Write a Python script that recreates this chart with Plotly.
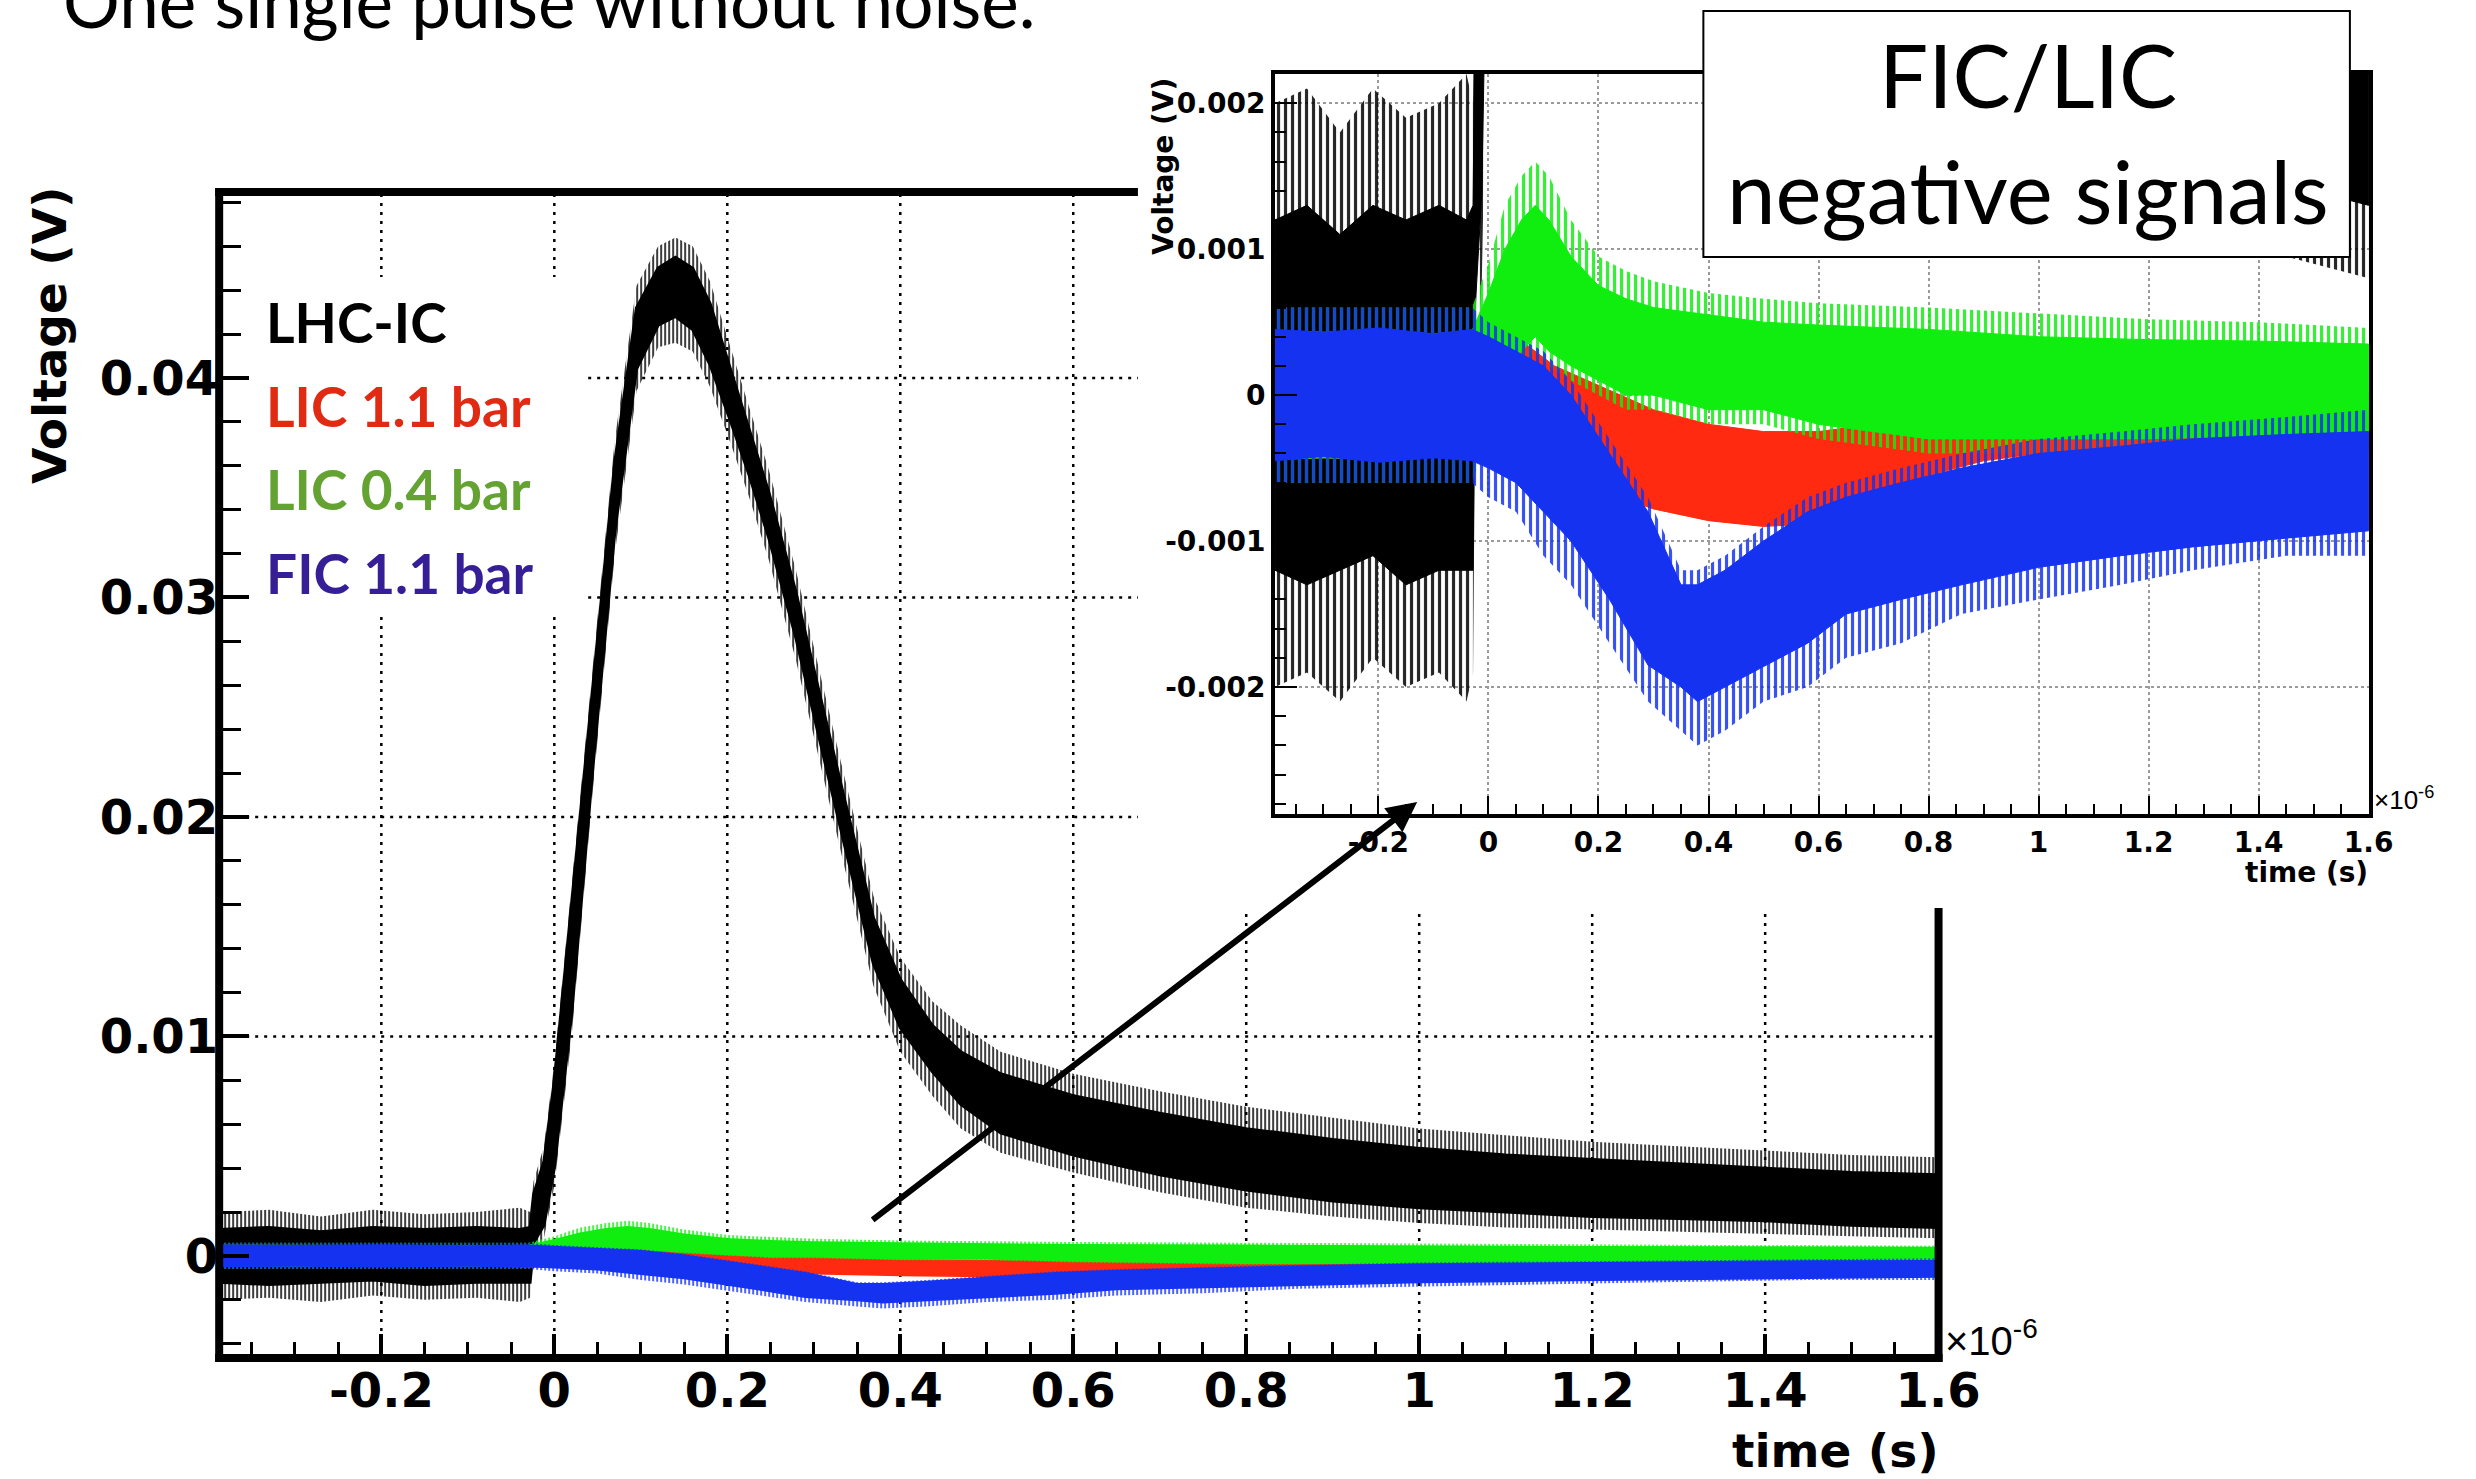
import plotly.graph_objects as go

W, H = 2476, 1479          # target picture size (pixels)
LAYOUT_W = 2520            # the page renders the figure ~44 px narrower than asked; compensate

# ---------------- data (time in microseconds, voltage in volts) ----------------
# Every signal is a noisy trace: a dense core band (lo/hi) plus the reach of its noise spikes.
lhc_t  = [-0.388, -0.33, -0.27, -0.21, -0.15, -0.09, -0.04, -0.028, -0.024, -0.012, 0.0, 0.02, 0.044,
          0.07, 0.095, 0.12, 0.14, 0.16, 0.18, 0.204, 0.225, 0.248, 0.279, 0.305, 0.335, 0.369, 0.40,
          0.437, 0.47, 0.516, 0.6, 0.7, 0.8, 0.9, 1.0, 1.1, 1.2, 1.3, 1.4, 1.5, 1.6]
lhc_lo = [-0.0012, -0.0013, -0.0012, -0.0011, -0.0013, -0.0012, -0.0012, -0.0012, 0.0006, 0.0014, 0.0040,
          0.0110, 0.0220, 0.0330, 0.0404, 0.0424, 0.0428, 0.0422, 0.0406, 0.0380, 0.0356, 0.0327, 0.0282,
          0.0238, 0.0188, 0.0133, 0.0104, 0.0084, 0.0069, 0.0056, 0.0046, 0.0037, 0.0030, 0.0025, 0.0022,
          0.0020, 0.0018, 0.0017, 0.0016, 0.0014, 0.0013]
lhc_hi = [0.0012, 0.0013, 0.0011, 0.0013, 0.0012, 0.0013, 0.0012, 0.0013, 0.0028, 0.0043, 0.0080,
          0.0160, 0.0256, 0.0362, 0.0432, 0.0450, 0.0455, 0.0450, 0.0434, 0.0403, 0.0377, 0.0348, 0.0303,
          0.0259, 0.0209, 0.0154, 0.0126, 0.0105, 0.0093, 0.0083, 0.0073, 0.0065, 0.0058, 0.0053, 0.0049,
          0.0046, 0.0044, 0.0042, 0.0040, 0.0038, 0.0037]
lhc_spike_lo = [-0.0020, -0.0019, -0.0021, -0.0018, -0.0020, -0.0019, -0.0021, -0.0019, 0.0000, 0.0008,
                0.0032, 0.0100, 0.0210, 0.0320, 0.0394, 0.0414, 0.0416, 0.0412, 0.0396, 0.0370, 0.0346,
                0.0317, 0.0272, 0.0228, 0.0178, 0.0123, 0.0093, 0.0073, 0.0058, 0.0047, 0.0038, 0.0029,
                0.0022, 0.0018, 0.0015, 0.0013, 0.0012, 0.0011, 0.0010, 0.0009, 0.0008]
lhc_spike_hi = [0.0020, 0.0021, 0.0018, 0.0021, 0.0019, 0.0020, 0.0022, 0.0020, 0.0034, 0.0050, 0.0088,
                0.0170, 0.0266, 0.0372, 0.0442, 0.0460, 0.0464, 0.0460, 0.0444, 0.0413, 0.0387, 0.0358,
                0.0313, 0.0269, 0.0219, 0.0164, 0.0136, 0.0116, 0.0105, 0.0093, 0.0083, 0.0075, 0.0068,
                0.0063, 0.0058, 0.0055, 0.0052, 0.0050, 0.0048, 0.0046, 0.0045]

lic11_t  = [-0.388, -0.3, -0.2, -0.1, -0.03, 0.05, 0.12, 0.18, 0.24, 0.3, 0.4, 0.5, 0.6, 0.7, 0.8,
            0.9, 1.0, 1.2, 1.4, 1.6]
lic11_lo = [-0.00044, -0.00043, -0.00044, -0.00042, -0.00044, -0.0005, -0.00052, -0.0006, -0.0007, -0.00078,
            -0.00086, -0.0009, -0.00088, -0.00078, -0.00055, -0.00045, -0.0004, -0.0004, -0.00038, -0.00038]
lic11_hi = [0.00044, 0.00043, 0.00044, 0.00042, 0.00044, 0.0004, 0.0002, 0.0001, 0.0, -0.0001,
            -0.0002, -0.00025, -0.00025, -0.0002, -0.0001, -0.00005, 0.0, 0.0, 0.00002, 0.00002]

lic04_t  = [-0.388, -0.3, -0.2, -0.1, -0.03, 0.0, 0.03, 0.06, 0.085, 0.11, 0.15, 0.2, 0.25, 0.3, 0.4,
            0.5, 0.6, 0.8, 1.0, 1.2, 1.4, 1.6]
lic04_lo = [-0.00044, -0.00043, -0.00044, -0.00042, -0.00044, -0.0002, 0.0001, 0.0003, 0.0004, 0.0003,
            0.0002, 0.0001, 0.0, 0.0, -0.0001, -0.0001, -0.0002, -0.0003, -0.0003, -0.0003, -0.00028, -0.00026]
lic04_hi = [0.00044, 0.00043, 0.00044, 0.00042, 0.00044, 0.0007, 0.0010, 0.0012, 0.0013, 0.0012,
            0.00095, 0.00075, 0.00066, 0.0006, 0.00055, 0.0005, 0.00048, 0.00045, 0.0004, 0.00038,
            0.00037, 0.00035]
lic04_spike_lo = [-0.0006, -0.0006, -0.0006, -0.0006, -0.0006, -0.0003, 0.0, 0.0002, 0.0003, 0.0002, 0.0001,
                  0.0, -0.0001, -0.0001, -0.0002, -0.0002, -0.0003, -0.0004, -0.0004, -0.0004, -0.0004, -0.0004]
lic04_spike_hi = [0.0006, 0.0006, 0.0006, 0.0006, 0.0006, 0.0009, 0.0013, 0.0015, 0.0016, 0.0015, 0.0012,
                  0.00095, 0.00085, 0.00078, 0.0007, 0.00066, 0.00063, 0.0006, 0.00056, 0.00052, 0.0005, 0.00046]

fic11_t  = [-0.388, -0.3, -0.2, -0.1, -0.03, 0.0, 0.05, 0.1, 0.15, 0.22, 0.29, 0.35, 0.38, 0.43, 0.5,
            0.58, 0.65, 0.75, 0.86, 1.0, 1.15, 1.28, 1.45, 1.6]
fic11_lo = [-0.00045, -0.00042, -0.00046, -0.00043, -0.00045, -0.0005, -0.0006, -0.0008, -0.001, -0.0014,
            -0.00185, -0.002, -0.0021, -0.002, -0.00186, -0.0017, -0.0015, -0.0014, -0.0013, -0.00118,
            -0.0011, -0.00104, -0.00098, -0.00093]
fic11_hi = [0.00045, 0.00043, 0.00046, 0.00042, 0.00045, 0.0004, 0.0003, 0.0002, 0.0, -0.0004,
            -0.0008, -0.0013, -0.0013, -0.0012, -0.001, -0.0008, -0.0007, -0.0006, -0.0005, -0.0004,
            -0.00035, -0.0003, -0.00027, -0.00025]
fic11_spike_lo = [-0.0006, -0.0006, -0.0006, -0.0006, -0.0006, -0.0007, -0.0008, -0.0011, -0.0013, -0.0017,
                  -0.0021, -0.0023, -0.0024, -0.0023, -0.0021, -0.0020, -0.0018, -0.0017, -0.0015, -0.0014,
                  -0.0013, -0.0012, -0.0011, -0.0011]
fic11_spike_hi = [0.0006, 0.0006, 0.0006, 0.0006, 0.0006, 0.0005, 0.0004, 0.0003, 0.0001, -0.0003,
                  -0.0007, -0.0012, -0.0012, -0.0011, -0.0009, -0.0007, -0.0006, -0.0005, -0.0004, -0.0003,
                  -0.00025, -0.0002, -0.00015, -0.0001]

series_names  = ["LHC-IC", "LIC 1.1 bar", "LIC 0.4 bar", "FIC 1.1 bar"]
trace_colors  = ["#000000", "#ff2a10", "#10ee10", "#1432f0"]
legend_colors = ["#000000", "#e02a12", "#64a232", "#351e96"]

x_tickvals = [-0.2, 0, 0.2, 0.4, 0.6, 0.8, 1.0, 1.2, 1.4, 1.6]
x_ticktext = ["-0.2", "0", "0.2", "0.4", "0.6", "0.8", "1", "1.2", "1.4", "1.6"]
main_y_tickvals = [0, 0.01, 0.02, 0.03, 0.04]
main_y_ticktext = ["0", "0.01", "0.02", "0.03", "0.04"]
inset_y_tickvals = [-0.002, -0.001, 0, 0.001, 0.002]
inset_y_ticktext = ["-0.002", "-0.001", "0", "0.001", "0.002"]

# ---------------- geometry (pixels) ----------------
MX0, MX1, MY0, MY1 = 219, 1937, 192, 1358
MXR = [-0.3875, 1.6005]
MYR = [-0.00465, 0.04847]
IX0, IX1, IY0, IY1 = 1274, 2367, 74, 814
IXR = [-0.388, 1.6005]
IYR = [-0.00287, 0.0022]


def px(x):
    return x / W


def py(y):
    return 1 - y / H


def mx(v):
    return px(MX0 + (v - MXR[0]) / (MXR[1] - MXR[0]) * (MX1 - MX0))


def my(v):
    return py(MY1 - (v - MYR[0]) / (MYR[1] - MYR[0]) * (MY1 - MY0))


def band(t, lo, hi, color, xa, ya, lw):
    return go.Scatter(x=list(t) + list(t)[::-1], y=list(hi) + list(lo)[::-1],
                      fill="toself", fillcolor=color, mode="lines",
                      line=dict(color=color, width=lw), xaxis=xa, yaxis=ya,
                      hoverinfo="skip", showlegend=False)


def spikes(t, lo, hi, color, xa, ya, size):
    return go.Scatter(x=list(t) + list(t)[::-1], y=list(hi) + list(lo)[::-1],
                      fill="toself", fillcolor="rgba(0,0,0,0)", mode="lines",
                      line=dict(width=0, color="rgba(0,0,0,0)"), xaxis=xa, yaxis=ya,
                      fillpattern=dict(shape="|", fgcolor=color, bgcolor="rgba(0,0,0,0)",
                                       fgopacity=0.85, size=size, solidity=0.45, fillmode="replace"),
                      hoverinfo="skip", showlegend=False)


fig = go.Figure()
for xa, ya, lw, psize in [("x", "y", 3, 4), ("x2", "y2", 1, 7)]:
    fig.add_trace(spikes(lhc_t, lhc_spike_lo, lhc_spike_hi, trace_colors[0], xa, ya, psize))
    fig.add_trace(band(lhc_t, lhc_lo, lhc_hi, trace_colors[0], xa, ya, lw))
    fig.add_trace(band(lic11_t, lic11_lo, lic11_hi, trace_colors[1], xa, ya, lw))
    fig.add_trace(spikes(lic04_t, lic04_spike_lo, lic04_spike_hi, trace_colors[2], xa, ya, psize))
    fig.add_trace(band(lic04_t, lic04_lo, lic04_hi, trace_colors[2], xa, ya, lw))
    fig.add_trace(spikes(fic11_t, fic11_spike_lo, fic11_spike_hi, trace_colors[3], xa, ya, psize))
    fig.add_trace(band(fic11_t, fic11_lo, fic11_hi, trace_colors[3], xa, ya, lw))

shapes = []
GRID = dict(color="black", width=2.5, dash="3px,6px")
for v in x_tickvals[:-1]:
    shapes.append(dict(type="line", xref="paper", yref="paper", x0=mx(v), x1=mx(v),
                       y0=py(MY1), y1=py(MY0), line=GRID, layer="below"))
for v in main_y_tickvals:
    shapes.append(dict(type="line", xref="paper", yref="paper", x0=px(MX0), x1=px(MX1),
                       y0=my(v), y1=my(v), line=GRID, layer="below"))
shapes.append(dict(type="rect", xref="paper", yref="paper", x0=px(MX0 + 5), x1=px(585),
                   y0=py(613), y1=py(277), fillcolor="white", line=dict(width=0), layer="below"))
shapes.append(dict(type="rect", xref="paper", yref="paper", x0=px(1137), x1=1,
                   y0=py(908), y1=1, fillcolor="white", line=dict(width=0), layer="below"))
FR = dict(color="black", width=8)
shapes += [
    dict(type="line", xref="paper", yref="paper", x0=px(MX0), x1=px(MX0), y0=py(MY1 + 4), y1=py(MY0 - 4), line=FR),
    dict(type="line", xref="paper", yref="paper", x0=px(MX0 - 4), x1=px(MX1 + 4), y0=py(MY1), y1=py(MY1), line=FR),
    dict(type="line", xref="paper", yref="paper", x0=px(MX0 - 4), x1=px(1137), y0=py(MY0), y1=py(MY0), line=FR),
    dict(type="line", xref="paper", yref="paper", x0=px(MX1), x1=px(MX1), y0=py(MY1 + 4), y1=py(908), line=FR),
]
shapes.append(dict(type="rect", xref="paper", yref="paper", x0=px(1702), x1=px(2348),
                   y0=py(257), y1=py(11), fillcolor="white", line=dict(color="black", width=2)))

BOLD = dict(family="DejaVu Sans", color="black", weight="bold")


def note(text, x, y, font, xa="center", ya="middle", angle=0):
    return dict(text=text, x=px(x), y=py(y), xref="paper", yref="paper", xanchor=xa,
                yanchor=ya, showarrow=False, textangle=angle, font=font)


ann = [note("One single pulse without noise.", 61, 0, dict(family="Lato", size=71, color="black"), xa="left")]
for name, col, yc in zip(series_names, legend_colors, [322, 406, 489, 573]):
    ann.append(note(name, 264, yc, dict(family="Lato", size=55, color=col, weight="bold"), xa="left"))
ann.append(note("Voltage (V)", 49, 335, dict(BOLD, size=47), angle=-90))
ann.append(note("time (s)", 1939, 1450, dict(BOLD, size=47), xa="right"))
ann.append(note("×10<sup>-6</sup>", 1941, 1338, dict(family="Liberation Sans", size=40, color="black"), xa="left"))
ann.append(note("Voltage (V)", 1162, 166, dict(BOLD, size=28), angle=-90))
ann.append(note("time (s)", 2368, 872, dict(BOLD, size=28), xa="right"))
ann.append(note("×10<sup>-6</sup>", 2370, 798, dict(family="Liberation Sans", size=26, color="black"), xa="left"))
ann.append(note("FIC/LIC", 2026, 75, dict(family="Lato", size=87, color="black")))
ann.append(note("negative signals", 2026, 190, dict(family="Lato", size=87, color="black")))
ann.append(dict(text="", x=px(1416), y=py(802), xref="paper", yref="paper", ax=870 - 1416, ay=1221 - 802,
                axref="pixel", ayref="pixel", showarrow=True, arrowhead=2, arrowsize=1, arrowwidth=6,
                arrowcolor="black", standoff=0))

main_axis_common = dict(showgrid=False, zeroline=False, showline=False, ticks="inside",
                        tickcolor="black", tickwidth=4, tickmode="array",
                        tickfont=dict(BOLD, size=48), fixedrange=True)
inset_axis_common = dict(showgrid=True, gridcolor="#9a9a9a", griddash="dot", gridwidth=1.5,
                         zeroline=False, showline=True, linewidth=4, linecolor="black", mirror=True,
                         ticks="inside", tickcolor="black", tickwidth=2, tickmode="array",
                         tickfont=dict(BOLD, size=28), fixedrange=True)

fig.update_layout(
    width=LAYOUT_W, height=H, margin=dict(l=0, r=0, t=0, b=0), autosize=False,
    paper_bgcolor="white", plot_bgcolor="white", showlegend=False,
    xaxis=dict(main_axis_common, domain=[px(MX0), px(MX1)], range=MXR, anchor="y",
               tickvals=x_tickvals, ticktext=x_ticktext, ticklen=24,
               minor=dict(tickmode="linear", tick0=0, dtick=0.05, ticks="inside", ticklen=16,
                          tickwidth=3, tickcolor="black", showgrid=False)),
    yaxis=dict(main_axis_common, domain=[py(MY1), py(MY0)], range=MYR, anchor="x",
               tickvals=main_y_tickvals, ticktext=main_y_ticktext, ticklen=30,
               minor=dict(tickmode="linear", tick0=0, dtick=0.002, ticks="inside", ticklen=22,
                          tickwidth=3, tickcolor="black", showgrid=False)),
    xaxis2=dict(inset_axis_common, domain=[px(IX0), px(IX1)], range=IXR, anchor="y2",
                tickvals=x_tickvals, ticktext=x_ticktext, ticklen=18,
                minor=dict(tickmode="linear", tick0=0, dtick=0.05, ticks="inside", ticklen=10,
                           tickwidth=2, tickcolor="black", showgrid=False)),
    yaxis2=dict(inset_axis_common, domain=[py(IY1), py(IY0)], range=IYR, anchor="x2",
                tickvals=inset_y_tickvals, ticktext=inset_y_ticktext, ticklen=22,
                minor=dict(tickmode="linear", tick0=0, dtick=0.0002, ticks="inside", ticklen=11,
                           tickwidth=2, tickcolor="black", showgrid=False)),
    shapes=shapes, annotations=ann,
)

fig.write_html("out.html")
